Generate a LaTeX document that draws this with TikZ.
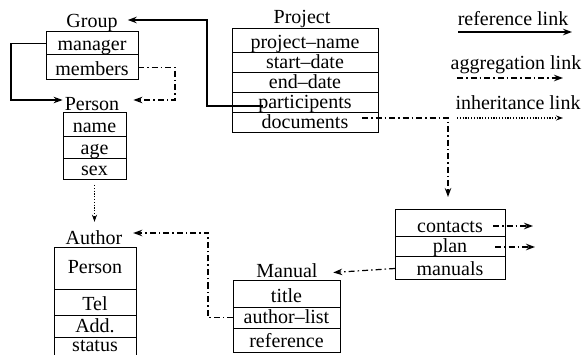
\documentclass[tikz,border=0pt]{standalone}
\usepackage{fontspec}
\setmainfont{Liberation Serif}
\usetikzlibrary{arrows.meta,calc}
\begin{document}
\begin{tikzpicture}[x=1pt,y=-1pt,
  rowbox/.style={draw, line width=1pt, anchor=north west, inner sep=0pt, outer sep=0pt,
    font=\fontsize{20}{24}\selectfont, text depth=4pt},
  lbl/.style={anchor=base, inner sep=0pt, font=\fontsize{20}{24}\selectfont,
    text height=13pt, text depth=4pt},
  reflink/.style={line width=1.2pt, -{Stealth[length=9pt,width=6.5pt]}},
  agglink/.style={line width=1.2pt, dash pattern=on 6pt off 3pt on 1.5pt off 3pt,
    -{Stealth[length=9pt,width=6.5pt]}},
  inhlink/.style={line width=1.1pt, dash pattern=on 1.2pt off 1.6pt,
    -{Stealth[length=7pt,width=5pt]}},
]
\useasboundingbox (0,0) rectangle (586,355);

% Group
\node[lbl] (grouplbl) at (92,28) {Group};
\node[rowbox, minimum width=92pt, minimum height=23pt, text height=18.5pt] (manager) at (46,32) {manager};
\node[rowbox, minimum width=92pt, minimum height=25pt, text height=20.5pt] (members) at (46,55) {members};

% Person
\node[lbl] (personlbl) at (92,111) {Person};
\node[rowbox, minimum width=63pt, minimum height=24pt, text height=19.5pt] (name) at (63,113) {name};
\node[rowbox, minimum width=63pt, minimum height=22pt, text height=17.5pt] (age) at (63,137) {age};
\node[rowbox, minimum width=63pt, minimum height=21pt, text height=16.5pt] (sex) at (63,159) {sex};

% Project
\node[lbl] (projectlbl) at (302,24) {Project};
\node[rowbox, minimum width=146pt, minimum height=24pt, text height=19.5pt] (projectname) at (232,29) {project--name};
\node[rowbox, minimum width=146pt, minimum height=20pt, text height=15.5pt] (startdate) at (232,53) {start--date};
\node[rowbox, minimum width=146pt, minimum height=20pt, text height=15.5pt] (enddate) at (232,73) {end--date};
\node[rowbox, minimum width=146pt, minimum height=20pt, text height=15.5pt] (participants) at (232,93) {participents};
\node[rowbox, minimum width=146pt, minimum height=20pt, text height=15.5pt] (documents) at (232,113) {documents};

% unnamed box: contacts / plan / manuals
\node[rowbox, minimum width=110pt, minimum height=27pt, text height=22.5pt] (contacts) at (395,210) {contacts};
\node[rowbox, minimum width=110pt, minimum height=20pt, text height=15.5pt] (plan) at (395,237) {plan};
\node[rowbox, minimum width=110pt, minimum height=23pt, text height=18.5pt] (manuals) at (395,257) {manuals};

% Manual
\node[lbl] (manuallbl) at (287,277) {Manual};
\node[rowbox, minimum width=107pt, minimum height=26pt, text height=21.5pt] (title) at (233,281) {title};
\node[rowbox, minimum width=107pt, minimum height=21pt, text height=16.5pt] (authorlist) at (233,307) {author--list};
\node[rowbox, minimum width=107pt, minimum height=24pt, text height=19.5pt] (reference) at (233,328) {reference};

% Author
\node[lbl] (authorlbl) at (94,245) {Author};
\node[rowbox, minimum width=82pt, minimum height=41pt, text height=13pt] (aperson) at (54,248) {Person};
\node[rowbox, minimum width=82pt, minimum height=26pt, text height=21.5pt] (tel) at (54,289) {Tel};
\node[rowbox, minimum width=82pt, minimum height=22pt, text height=17.5pt] (add) at (54,315) {Add.};
\node[rowbox, minimum width=82pt, minimum height=19.5pt, text height=12pt, text depth=3pt] (status) at (54,337) {status};

% Legend
\node[lbl] (legref) at (513,26) {reference link};
\node[lbl] (legagg) at (516,70) {aggregation link};
\node[lbl] (leginh) at (518,110) {inheritance link};
\coordinate (r1) at (458,32); \coordinate (r2) at (572,32);
\coordinate (a1) at (457,78); \coordinate (a2) at (563,78);
\coordinate (i1) at (457,118); \coordinate (i2) at (563,118);
\draw[reflink, line width=1.6pt] (r1) -- (r2);
\draw[agglink] (a1) -- (a2);
\draw[inhlink] (i1) -- (i2);

% free ends
\coordinate (ce) at (533,226);
\coordinate (pe) at (535,247);

% Connectors
\draw[reflink] ($(participants.south west)+(31,-7)$) -- ++(-56,0) |- ($(grouplbl.east)+(10,-3.5)$);
\draw[reflink] (manager.west) -- ++(-35,0) |- ($(personlbl.west)+(-2,-6.5)$);
\draw[agglink] (members.east) -- ++(37,0) |- ($(personlbl.east)+(14,-6.5)$);
\draw[agglink] ($(documents.east)+(-16,-5)$) -| ($(contacts.north)+(-2,-13)$);
\draw[agglink] ($(contacts.east)+(-12,2.5)$) -- (ce);
\draw[agglink] ($(plan.east)+(-10,0)$) -- (pe);
\draw[agglink] (manuals.west) -- ($(manuallbl.east)+(15.5,0)$ |- manuals.west);
\draw[agglink] (authorlist.west) -- ++(-25,0) |- ($(authorlbl.east)+(10.7,-7.5)$);
\draw[inhlink] ($(sex.south)+(0,5)$) -- ($(sex.south |- authorlbl.north)+(0,-10)$);
\end{tikzpicture}
\end{document}
